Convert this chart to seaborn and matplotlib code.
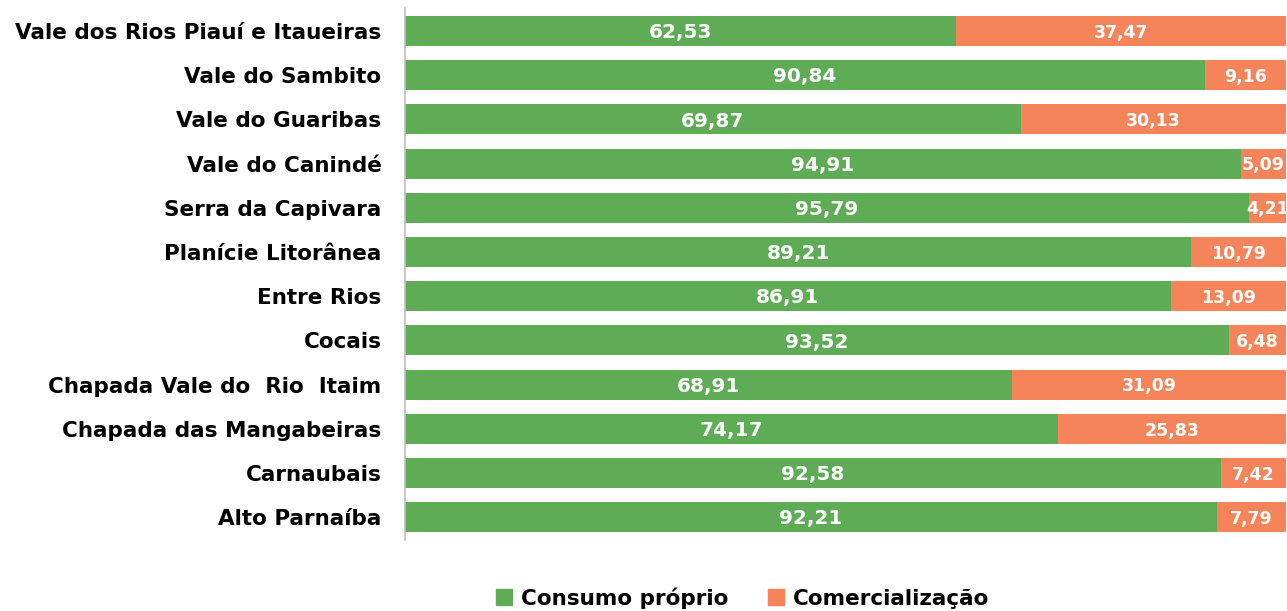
import matplotlib
matplotlib.use("Agg")
import matplotlib.pyplot as plt
from matplotlib.lines import Line2D
import seaborn as sns
import pandas as pd

regions = [
    "Vale dos Rios Piauí e Itaueiras",
    "Vale do Sambito",
    "Vale do Guaribas",
    "Vale do Canindé",
    "Serra da Capivara",
    "Planície Litorânea",
    "Entre Rios",
    "Cocais",
    "Chapada Vale do  Rio  Itaim",
    "Chapada das Mangabeiras",
    "Carnaubais",
    "Alto Parnaíba",
]
consumo = [62.53, 90.84, 69.87, 94.91, 95.79, 89.21, 86.91, 93.52, 68.91, 74.17, 92.58, 92.21]
comercial = [37.47, 9.16, 30.13, 5.09, 4.21, 10.79, 13.09, 6.48, 31.09, 25.83, 7.42, 7.79]

GREEN = "#5fac57"
ORANGE = "#f6845a"

sns.set_theme(style="white")
plt.rcParams["font.family"] = ["DejaVu Sans"]
plt.rcParams["text.color"] = "black"

df = pd.DataFrame({"regiao": regions, "consumo": consumo, "comercial": comercial})
df["total"] = df["consumo"] + df["comercial"]

fig = plt.figure(figsize=(12.87, 6.11), dpi=100)
ax = fig.add_axes([0.3147, 0.116, 0.6845, 0.871])

# stacked bars: full length in orange, own-consumption share in green on top
sns.barplot(data=df, y="regiao", x="total", color=ORANGE, saturation=1,
            width=0.68, orient="h", linewidth=0, ax=ax)
sns.barplot(data=df, y="regiao", x="consumo", color=GREEN, saturation=1,
            width=0.68, orient="h", linewidth=0, ax=ax)

def fmt(v):
    return f"{v:.2f}".replace(".", ",")

for i, (g, o) in enumerate(zip(consumo, comercial)):
    ax.text(g / 2, i + 0.04, fmt(g), ha="center", va="center", color="white",
            fontsize=14.5, fontweight="bold")
    ax.text(g + o / 2, i + 0.04, fmt(o), ha="center", va="center", color="white",
            fontsize=12.5, fontweight="bold")

ax.set_xlim(0, 100)
ax.set_ylim(11.52, -0.52)
ax.set_xlabel("")
ax.set_ylabel("")
ax.set_xticks([])
ax.tick_params(axis="y", length=0, pad=17)
for lbl in ax.get_yticklabels():
    lbl.set_fontweight("bold")
    lbl.set_fontsize(15.5)
    lbl.set_color("black")
for s in ["top", "right", "bottom"]:
    ax.spines[s].set_visible(False)
ax.spines["left"].set_color("#bfbfbf")
ax.spines["left"].set_linewidth(1.2)

handles = [
    Line2D([], [], marker="s", linestyle="", markersize=11, color=GREEN, label="Consumo próprio"),
    Line2D([], [], marker="s", linestyle="", markersize=11, color=ORANGE, label="Comercialização"),
]
leg = fig.legend(handles=handles, loc="center", bbox_to_anchor=(0.577, 0.021), ncol=2,
                 frameon=False, handlelength=0.8, handletextpad=0.4, columnspacing=1.8,
                 prop={"weight": "bold", "size": 15.5})
for t in leg.get_texts():
    t.set_color("black")

fig.savefig("out.png", dpi=100)
